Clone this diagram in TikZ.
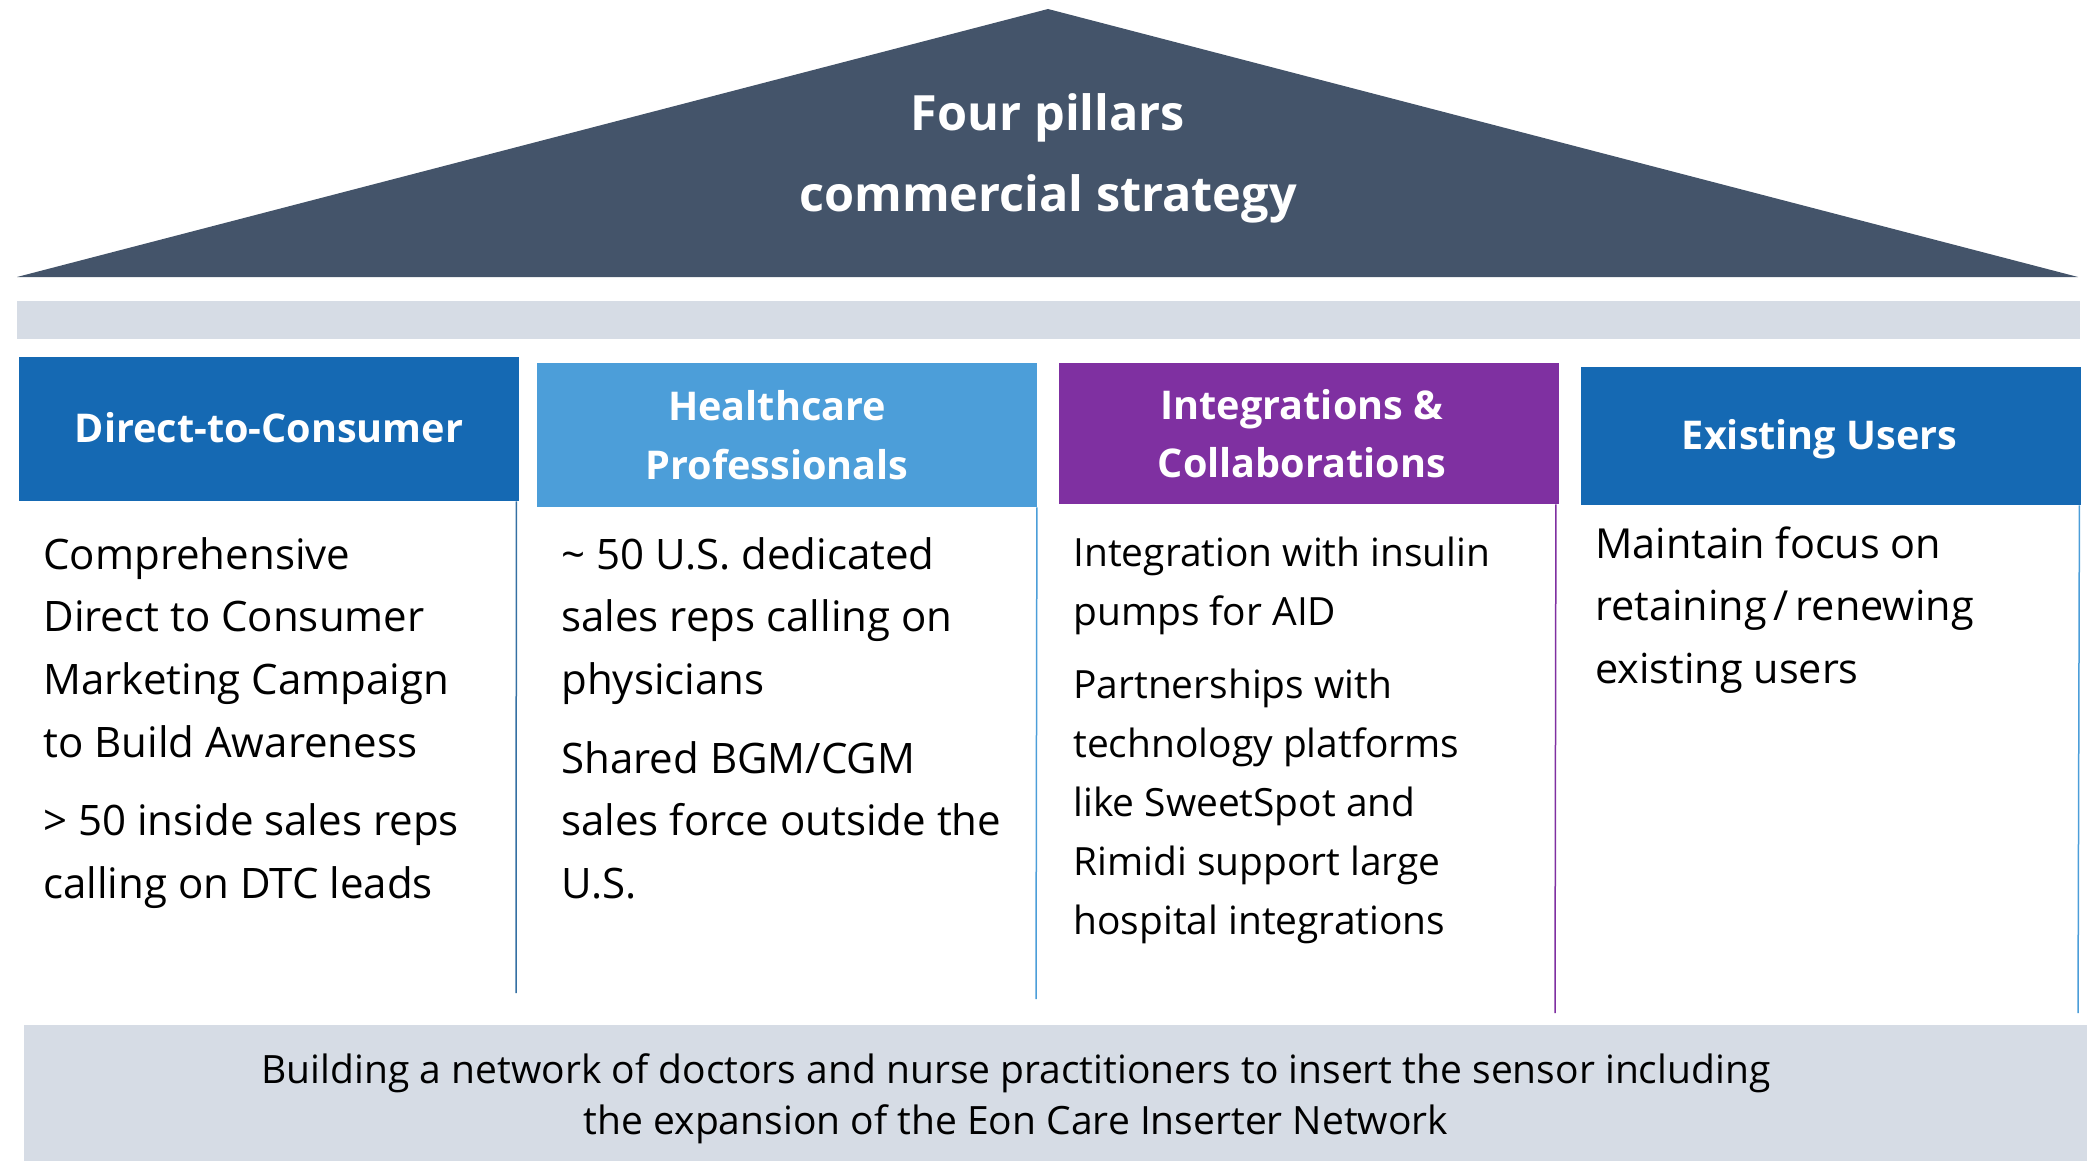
\documentclass[tikz,border=0pt]{standalone}
\usepackage{fontspec}
\setmainfont{Open Sans}
\definecolor{roof}{HTML}{44546A}
\definecolor{barc}{HTML}{D6DCE5}
\definecolor{dtc}{HTML}{1569B3}
\definecolor{hcp}{HTML}{4C9ED9}
\definecolor{icc}{HTML}{7F30A1}
\begin{document}
\begin{tikzpicture}[x=0.5pt,y=-0.5pt,
  titletext/.style={text=white,font=\fontsize{24.3}{30}\selectfont\bfseries,inner sep=0pt},
  hdr/.style={fill=#1,inner sep=0pt,minimum width=250pt},
  hdrtext/.style={text=white,font=\fontsize{19.8}{29.3}\selectfont\bfseries,align=center,inner sep=0pt},
  body/.style={anchor=base west,inner sep=0pt,text=black},
  vline/.style={line width=0.75pt}]
\useasboundingbox (0,0) rectangle (2091,1161);
% roof
\coordinate (apex) at (1048,9);
\coordinate (rr) at (2078,277);
\coordinate (rl) at (17,277);
\fill[roof] (apex) -- (rr) -- (rl) -- cycle;
\node[titletext,anchor=base] (t1) at (1048,131) {Four pillars};
\node[titletext,anchor=base] (t2) at (1048,211) {commercial strategy};
% beam
\node[fill=barc,inner sep=0pt,minimum width=1031.5pt,minimum height=19pt] (beam) at (1048.5,320) {};
% headers
\node[hdr=dtc,minimum height=72pt] (h1) at (269,429) {};
\node[hdr=hcp,minimum height=72pt] (h2) at (786.5,435) {};
\node[hdr=icc,minimum height=70.5pt] (h3) at (1308.5,433.5) {};
\node[hdr=dtc,minimum height=69pt] (h4) at (1831,436) {};
\node[hdrtext] (h1t) at ([yshift=0.5pt]h1.center) {Direct-to-Consumer};
\node[hdrtext] (h2t) at ([xshift=-4.7pt]h2.center) {Healthcare\\Professionals};
\node[hdrtext] (h3t) at ([xshift=-3.3pt]h3.center) {Integrations \&\\Collaborations};
\node[hdrtext] (h4t) at ([xshift=-5.7pt,yshift=-1.7pt]h4.center) {Existing Users};
% vertical lines
\coordinate (e1) at (516,993);
\coordinate (e2) at (1036,999);
\coordinate (e3) at (1555,1013);
\coordinate (e4) at (2078,1013);
\draw[vline,dtc!70!gray] ([xshift=-1.5pt]h1.south east) -- (e1);
\draw[vline,hcp] (h2.south east) -- (e2);
\draw[vline,icc] ([xshift=-1.5pt]h3.south east) -- (e3);
\draw[vline,hcp] ([xshift=-1pt]h4.south east) -- (e4);
% body texts
\node[body] (b1) at (43,569) {\parbox[t]{240pt}{\fontsize{21}{31.35}\selectfont
Comprehensive\\Direct to Consumer\\Marketing Campaign\\to Build Awareness\\[8pt]
> 50 inside sales reps\\calling on DTC leads}};
\node[body] (b2) at (561,569) {\parbox[t]{240pt}{\fontsize{21}{31.35}\selectfont
\textasciitilde\ 50 U.S. dedicated\\sales reps calling on\\physicians\\[8pt]
Shared BGM/CGM\\sales force outside the\\U.S.}};
\node[body] (b3) at (1073,566) {\parbox[t]{240pt}{\fontsize{19.45}{29.5}\selectfont
Integration with insulin\\pumps for AID\\[7pt]
Partnerships with\\technology platforms\\like SweetSpot and\\Rimidi support large\\hospital integrations}};
\node[body] (b4) at (1595,558) {\parbox[t]{240pt}{\fontsize{20.7}{31.35}\selectfont
Maintain focus on\\retaining\,/\,renewing\\existing users}};
% foundation
\node[fill=barc,inner sep=0pt,minimum width=1031.5pt,minimum height=68pt] (found) at (1055.5,1093) {};
\node[align=center,inner sep=0pt,font=\fontsize{19.5}{25.3}\selectfont] (ft) at (1016,1099)
 {Building a network of doctors and nurse practitioners to insert the sensor including\\the expansion of the Eon Care Inserter Network};
\end{tikzpicture}
\end{document}
